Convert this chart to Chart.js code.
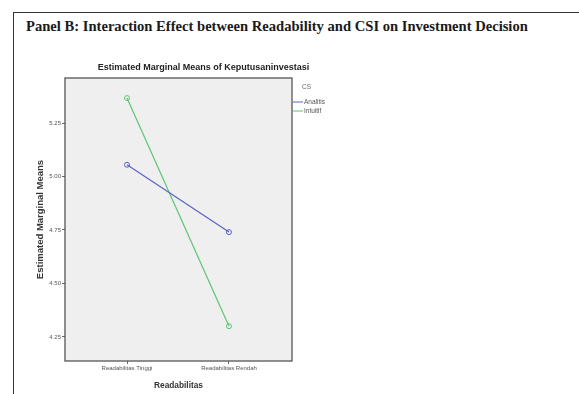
<!DOCTYPE html>
<html>
<head>
<meta charset="utf-8">
<script src="https://cdn.jsdelivr.net/npm/chart.js@4/dist/chart.umd.min.js"></script>
<style>
  html, body { margin: 0; padding: 0; background: #fff; overflow: hidden; }
  body { width: 579px; height: 394px; position: relative; }
  #frame { position: absolute; left: 13px; top: 12px; width: 700px; height: 500px; border: 1.5px solid #333; }
  #panel-title { position: absolute; left: 26px; top: 18px; font: bold 14.6px "Liberation Serif", serif; color: #1a1a1a; white-space: nowrap; }
  #chart { position: absolute; left: 0; top: 0; }
</style>
</head>
<body>
<div id="frame"></div>
<div id="panel-title">Panel B: Interaction Effect between Readability and CSI on Investment Decision</div>
<canvas id="chart" width="376" height="394"></canvas>
<script>
const categories = ["Readabilitas Tinggi", "Readabilitas Rendah"];
const analitisValues = [5.055, 4.740];
const intuitifValues = [5.367, 4.300];
const yTickValues = [4.25, 4.50, 4.75, 5.00, 5.25];
const legendTitle = "CS";

const toPoints = (values) => values.map((v, i) => ({ x: i, y: v }));

// grey plot box + frame, like the SPSS profile plot
const plotBox = {
    id: "plotBox",
    beforeDatasetsDraw(chart) {
        const { ctx, chartArea: a } = chart;
        ctx.save();
        ctx.fillStyle = "#efefef";
        ctx.fillRect(a.left, a.top, a.right - a.left, a.bottom - a.top);
        ctx.strokeStyle = "#555";
        ctx.lineWidth = 1.3;
        ctx.strokeRect(a.left, a.top, a.right - a.left, a.bottom - a.top);
        ctx.restore();
    }
};

// small legend to the right of the plot
const sideLegend = {
    id: "sideLegend",
    afterDraw(chart) {
        const { ctx, chartArea: a } = chart;
        ctx.save();
        ctx.font = "6.5px 'Liberation Sans', sans-serif";
        ctx.textBaseline = "middle";
        ctx.fillStyle = "#666";
        ctx.fillText(legendTitle, a.right + 10, 87);
        chart.data.datasets.forEach((ds, i) => {
            const y = 102 + i * 9;
            ctx.strokeStyle = ds.borderColor;
            ctx.lineWidth = 1;
            ctx.beginPath();
            ctx.moveTo(a.right + 1, y);
            ctx.lineTo(a.right + 11, y);
            ctx.stroke();
            ctx.fillStyle = "#555";
            ctx.fillText(ds.label, a.right + 12, y);
        });
        ctx.restore();
    }
};

const chart = new Chart(document.getElementById("chart"), {
    type: "line",
    data: {
        datasets: [
            {
                label: "Analitis",
                data: toPoints(analitisValues),
                borderColor: "#5a62c4",
                borderWidth: 1.2,
                pointRadius: 2.5,
                pointBorderWidth: 1,
                pointBackgroundColor: "rgba(0,0,0,0)",
                pointBorderColor: "#5a62c4"
            },
            {
                label: "Intuitif",
                data: toPoints(intuitifValues),
                borderColor: "#5cc675",
                borderWidth: 1.2,
                pointRadius: 2.5,
                pointBorderWidth: 1,
                pointBackgroundColor: "rgba(0,0,0,0)",
                pointBorderColor: "#5cc675"
            }
        ]
    },
    options: {
        responsive: false,
        animation: false,
        layout: { padding: { left: 31, top: 62, right: 0, bottom: 0 } },
        plugins: {
            legend: { display: false },
            tooltip: { enabled: false },
            title: {
                display: true,
                text: "Estimated Marginal Means of Keputusaninvestasi",
                color: "#222",
                font: { family: "'Liberation Sans', sans-serif", size: 9, weight: "bold", lineHeight: 1.2 },
                padding: { top: 0, bottom: 5.2 }
            }
        },
        scales: {
            x: {
                type: "linear",
                min: -0.608,
                max: 1.618,
                afterBuildTicks: (scale) => { scale.ticks = categories.map((c, i) => ({ value: i })); },
                afterFit: (scale) => { scale.height = 33; },
                border: { display: false },
                grid: { drawOnChartArea: false, drawTicks: true, tickLength: 3, color: "#666" },
                ticks: {
                    autoSkip: false,
                    maxRotation: 0,
                    padding: 1,
                    color: "#555",
                    font: { family: "'Liberation Sans', sans-serif", size: 6 },
                    callback: (v) => categories[v]
                },
                title: {
                    display: true,
                    text: "Readabilitas",
                    color: "#333",
                    font: { family: "'Liberation Sans', sans-serif", size: 8.3, weight: "bold" },
                    padding: { top: 2, bottom: 3 }
                }
            },
            y: {
                min: 4.137,
                max: 5.461,
                afterBuildTicks: (scale) => { scale.ticks = yTickValues.map((v) => ({ value: v })); },
                afterFit: (scale) => { scale.width = 34; },
                border: { display: false },
                grid: { drawOnChartArea: false, drawTicks: true, tickLength: 3, color: "#666" },
                ticks: {
                    padding: 1,
                    color: "#555",
                    font: { family: "'Liberation Sans', sans-serif", size: 6 },
                    callback: (v) => Number(v).toFixed(2)
                },
                title: {
                    display: true,
                    text: "Estimated Marginal Means",
                    color: "#333",
                    font: { family: "'Liberation Sans', sans-serif", size: 9.5, weight: "bold" },
                    padding: 4
                }
            },
            // keeps room on the right for the legend
            side: {
                axis: "y",
                position: "right",
                afterFit: (scale) => { scale.width = 84; },
                border: { display: false },
                grid: { display: false },
                ticks: { display: false }
            }
        }
    },
    plugins: [plotBox, sideLegend]
});
</script>
</body>
</html>
